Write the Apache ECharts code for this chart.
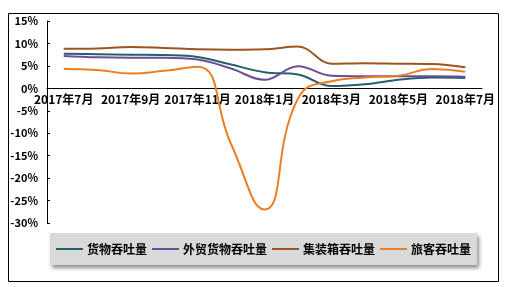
<!DOCTYPE html>
<html>
<head>
<meta charset="utf-8">
<script src="https://cdn.jsdelivr.net/npm/echarts@6/dist/echarts.min.js"></script>
<style>html,body{margin:0;padding:0;background:#fff;}#c{width:507px;height:287px;}</style>
</head>
<body>
<div id="c"></div>
<script>
const categories = ['2017年7月','2017年8月','2017年9月','2017年10月','2017年11月','2017年12月','2018年1月','2018年2月','2018年3月','2018年4月','2018年5月','2018年6月','2018年7月'];
const seriesNames = ['货物吞吐量','外贸货物吞吐量','集装箱吞吐量','旅客吞吐量'];
const cargo     = [7.7, 7.6, 7.5, 7.4, 7.0, 5.3, 3.6, 3.1, 0.5, 0.9, 1.9, 2.4, 2.3];
const foreign   = [7.2, 6.9, 6.8, 6.8, 6.4, 4.4, 1.9, 4.9, 2.8, 2.7, 2.7, 2.7, 2.6];
const container = [8.8, 8.9, 9.2, 9.0, 8.7, 8.6, 8.7, 9.3, 5.5, 5.6, 5.5, 5.4, 4.7];
const passenger = [4.3, 4.1, 3.3, 3.9, 4.8, -12.4, -27.0, -2.3, 1.6, 2.4, 2.8, 4.3, 3.7];
const yMin = -30, yMax = 15, yStep = 5;

const colors = ['#255E6E', '#6A4F96', '#9C5420', '#EE7D22'];
const font = '"Noto Sans CJK SC", "Noto Sans", sans-serif';
const data = [cargo, foreign, container, passenger];

const gridTop = 21, gridBottom = 64, H = 287;
const gridH = H - gridTop - gridBottom;
// move the category axis up so it sits on the zero line
const zeroOffset = -gridH * (0 - yMin) / (yMax - yMin);

const chart = echarts.init(document.getElementById('c'));
chart.setOption({
  animation: false,
  color: colors,
  graphic: [{
    type: 'rect', left: 6, top: 11, silent: true,
    shape: { width: 490, height: 268 },
    style: { fill: 'none', stroke: '#000', lineWidth: 1 }
  }],
  grid: { left: 47, right: 25, top: gridTop, bottom: gridBottom },
  legend: {
    left: 50, top: 233,
    data: seriesNames,
    icon: 'rect',
    itemWidth: 27, itemHeight: 2,
    itemGap: 5,
    padding: [10, 6, 10, 6],
    backgroundColor: '#D9D9D9',
    shadowColor: 'rgba(0,0,0,0.45)', shadowBlur: 4, shadowOffsetX: 2, shadowOffsetY: 3,
    textStyle: { fontFamily: font, fontWeight: 'bold', fontSize: 12, color: '#000', padding: [0,0,0,-1] }
  },
  xAxis: {
    type: 'category',
    data: categories,
    boundaryGap: true,
    position: 'bottom',
    offset: zeroOffset,
    axisLine: { onZero: false, lineStyle: { color: '#000', width: 1 } },
    axisTick: { inside: true, length: 4, interval: 1, lineStyle: { color: '#000' } },
    axisLabel: { interval: 1, margin: 5, color: '#000', fontFamily: font, fontWeight: 'bold', fontSize: 12 },
    splitLine: { show: false }
  },
  yAxis: {
    type: 'value',
    min: yMin, max: yMax, interval: yStep,
    axisLine: { show: true, lineStyle: { color: '#000', width: 1 } },
    axisTick: { show: true, inside: true, length: 3, lineStyle: { color: '#000' } },
    axisLabel: { formatter: v => v + '%', margin: 9, color: '#000', fontFamily: font, fontWeight: 'bold', fontSize: 11 },
    splitLine: { show: false }
  },
  series: seriesNames.map((n, i) => ({
    name: n, type: 'line', data: data[i], smooth: i === 3 ? 0.5 : 0.4,
    showSymbol: false, symbol: 'none',
    lineStyle: { width: 2, color: colors[i] }
  }))
});
</script>
</body>
</html>
